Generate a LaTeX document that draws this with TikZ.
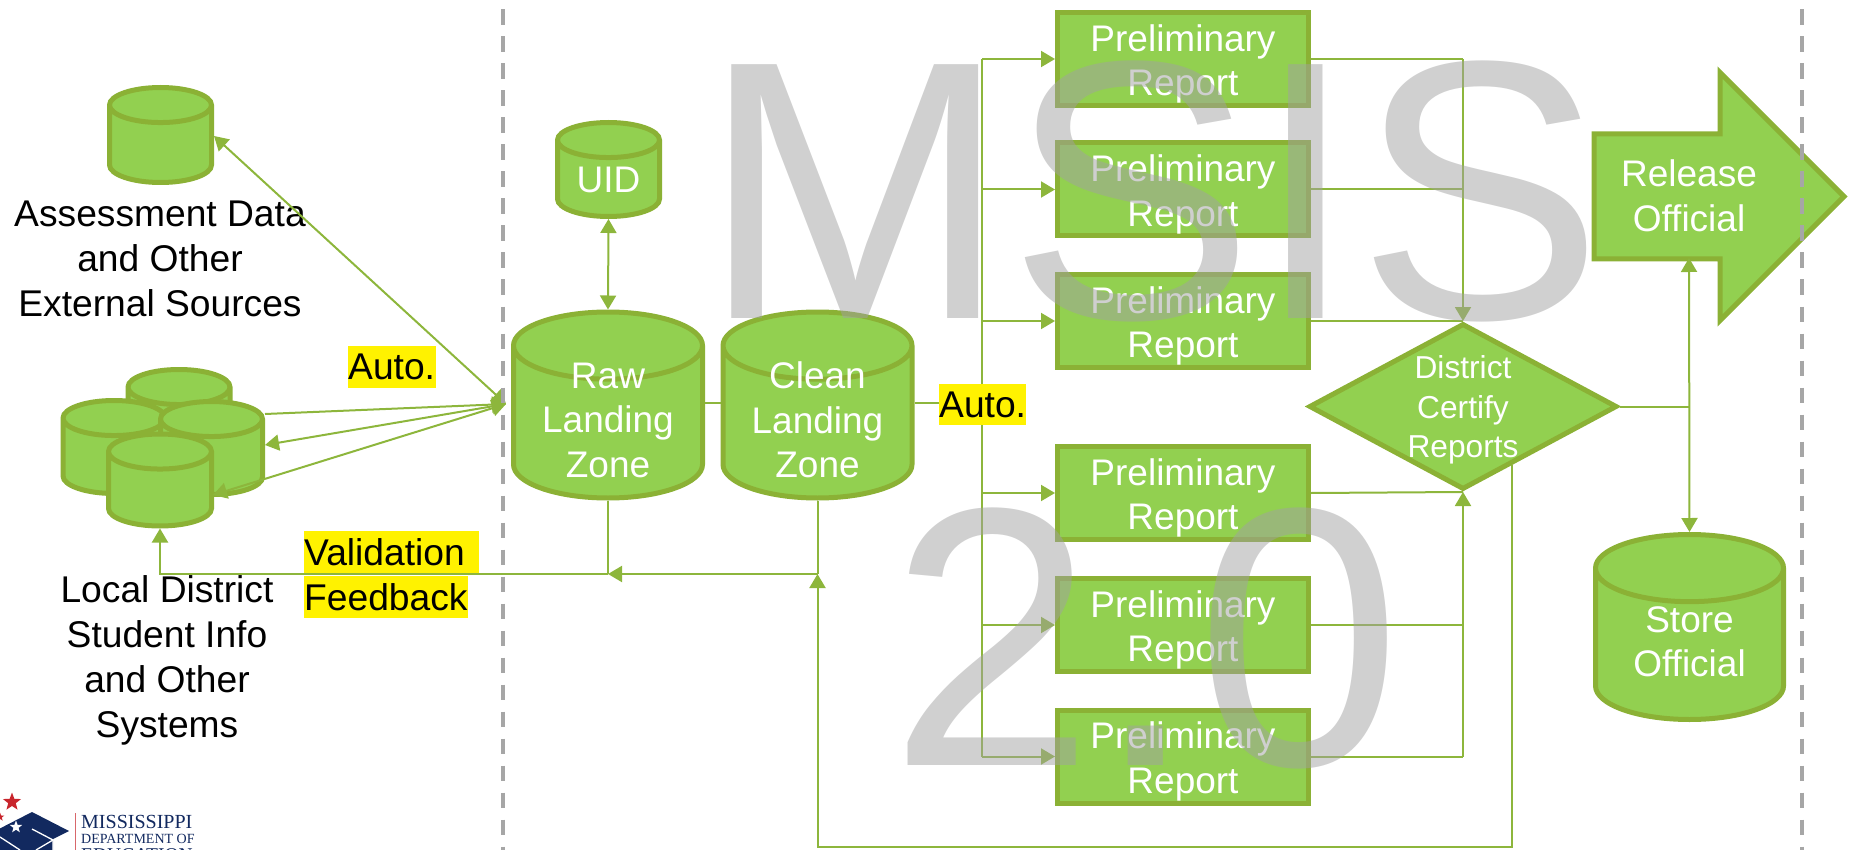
\documentclass[tikz,border=0pt]{standalone}
\usepackage{fontspec}
\setmainfont{Liberation Sans}
\newfontfamily\logofont{Liberation Serif}
\usetikzlibrary{shapes.geometric,shapes.arrows,arrows.meta,calc}
\definecolor{boxgreen}{HTML}{92D050}
\definecolor{edgegreen}{HTML}{8BB135}
\definecolor{linegreen}{HTML}{8DB63C}
\definecolor{dashgray}{HTML}{A6A6A6}
\definecolor{markgray}{HTML}{A1A1A1}
\definecolor{logonavy}{HTML}{12295F}
\definecolor{logored}{HTML}{C8252C}
\newcommand{\prelimtxt}{\rule{0pt}{37pt}Preliminary\\Report}
\tikzset{
    shapebase/.style={draw=edgegreen, fill=boxgreen, line width=5pt, text=white, inner sep=0pt, align=center, font=\fontsize{37}{44.5}\selectfont},
    dbase/.style={shapebase, cylinder, shape border rotate=90, anchor=shape center},
    dbsmall/.style={dbase, aspect=.55, minimum width=102pt},
    dbbig/.style={dbase, aspect=.51},
    report/.style={shapebase, rectangle, minimum width=251pt, minimum height=93pt},
    onshape/.style={text=white, inner sep=0pt, align=center, font=\fontsize{37}{44.5}\selectfont},
    flow/.style={draw=linegreen, line width=2pt},
    flowin/.style={flow, -{Triangle[length=14pt,width=16pt]}},
    flowboth/.style={flow, {Triangle[length=14pt,width=16pt]}-{Triangle[length=14pt,width=16pt]}},
    plainlabel/.style={align=center, font=\fontsize{37.2}{45}\selectfont},
    hilite/.style={fill=yellow, inner sep=0pt, anchor=north west, align=left, font=\fontsize{37.2}{44}\selectfont},
    zone/.style={draw=dashgray, line width=4pt, dash pattern=on 15.5pt off 11.5pt},
    watermark/.style={text=markgray, text opacity=.5, inner sep=0pt, anchor=base west, font=\fontsize{369}{369}\selectfont}
}
\begin{document}
\begin{tikzpicture}[x=1pt,y=-1pt]
    \useasboundingbox (0,0) rectangle (1852,850);
    \clip (0,0) rectangle (1852,850);

    \node[dbsmall, minimum height=95pt] (assess) at (160.5,135) {\phantom{UID}};
    \node[dbsmall, minimum height=95pt] (local1) at (179,417) {\phantom{UID}};
    \node[dbsmall, minimum height=93pt] (local2) at (114,447) {\phantom{UID}};
    \node[dbsmall, minimum height=93pt] (local3) at (211.5,448) {\phantom{UID}};
    \node[dbsmall, minimum width=103pt, minimum height=92pt] (local4) at (160,480) {\phantom{UID}};
    \node[dbsmall, minimum height=94pt] (uid) at (608.5,169.5) {UID};
    \node[dbbig, minimum width=189pt, minimum height=186pt] (raw) at (608,405) {\phantom{Landing}};
    \node[dbbig, minimum width=189pt, minimum height=186pt] (clean) at (817.5,405) {\phantom{Landing}};
    \node[dbbig, minimum width=188pt, minimum height=185pt] (store) at (1689.5,627) {\phantom{Landing}};
    \node[onshape] (rawtxt) at (608,420) {Raw\\Landing\\Zone};
    \node[onshape] (cleantxt) at (817.5,420) {Clean\\Landing\\Zone};
    \node[onshape] (storetxt) at (1689.5,642) {Store\\Official};

    \node[report] (rep1) at (1183,59) {\prelimtxt};
    \node[report] (rep2) at (1183,189.5) {\prelimtxt};
    \node[report] (rep3) at (1183,321) {\prelimtxt};
    \node[report] (rep4) at (1183,493) {\prelimtxt};
    \node[report] (rep5) at (1183,625) {\prelimtxt};
    \node[report] (rep6) at (1183,756.5) {\prelimtxt};

    \node[shapebase, diamond, aspect=2, inner sep=-8pt, minimum width=308pt, minimum height=166pt, font=\fontsize{31.7}{39.5}\selectfont] (cert) at (1463,406.5) {\rule{0pt}{30pt}District\\Certify\\Reports};
    \node[shapebase, single arrow, anchor=tail, single arrow tip angle=90, single arrow head extend=61.5pt, minimum height=250pt, minimum width=243pt, text height=60pt, text depth=60pt] (release) at (1591.5,196.5) {};
    \node[onshape] (releasetxt) at (1689,196) {Release\\Official};

    \node[plainlabel] (assesstxt) at (160,259) {Assessment Data\\and Other\\External Sources};
    \node[plainlabel] (localtxt) at (167,660) {Local District\\Student Info\\and Other\\Systems};

    \coordinate (rawin) at (506,404);
    \coordinate (fanA) at (265,414);
    \coordinate (fanB) at (265,445);
    \coordinate (fanC) at (213,495);
    \coordinate (assessin) at (214,136);
    \coordinate (busin) at (982,403);
    \coordinate (busout) at (1463,403);
    \coordinate (cleanjoin) at (817.5,574);
    \coordinate (rawjoin) at (608,574);
    \coordinate (loopturn) at (817.5,847);
    \coordinate (certout) at ($(cert.south)!.31!(cert.east)$);
    \coordinate (relbot) at (1689,258);
    \coordinate (certjoin) at (1689,406.5);

    \draw[flowboth] (assessin) -- (rawin);
    \draw[flowin] (fanA) -- (rawin);
    \draw[flowboth] (fanB) -- (rawin);
    \draw[flowboth] (fanC) -- (rawin);
    \draw[flowboth] (uid.south) -- (raw.north);
    \draw[flow] (raw.east |- busin) -- (clean.west |- busin);
    \draw[flow] (clean.east |- busin) -- (busin);
    \draw[flow] (busin |- rep1.west) -- (busin |- rep6.west);
    \draw[flowin] (busin |- rep1.west) -- (rep1.west);
    \draw[flowin] (busin |- rep2.west) -- (rep2.west);
    \draw[flowin] (busin |- rep3.west) -- (rep3.west);
    \draw[flowin] (busin |- rep4.west) -- (rep4.west);
    \draw[flowin] (busin |- rep5.west) -- (rep5.west);
    \draw[flowin] (busin |- rep6.west) -- (rep6.west);
    \draw[flow] (rep1.east) -- (busout |- rep1.east);
    \draw[flow] (rep2.east) -- (busout |- rep2.east);
    \draw[flow] (rep3.east) -- (busout |- rep3.east);
    \draw[flowin] (busout |- rep1.east) -- (cert.north);
    \draw[flow] (rep4.east) -- (cert.south);
    \draw[flow] (rep5.east) -- (busout |- rep5.east);
    \draw[flow] (rep6.east) -- (busout |- rep6.east);
    \draw[flowin] (busout |- rep6.east) -- (cert.south);
    \draw[flow] (cert.east) -- (certjoin);
    \draw[flowboth] (relbot) -- (store.north);
    \draw[flow] (clean.south) -- (cleanjoin);
    \draw[flowin] (cleanjoin) -- (rawjoin);
    \draw[flow] (raw.south) -- (rawjoin);
    \draw[flowin] (rawjoin) -| (local4.south);
    \draw[flowin] (certout) |- (loopturn) -- (cleanjoin);

    \node[hilite, text width=88pt, minimum height=42pt] (auto1) at (348,346) {Auto.};
    \node[hilite, text width=87pt, minimum height=41pt] (auto2) at (939,384) {Auto.};
    \node[hilite, text width=175pt, minimum height=42pt] (valid) at (304,531) {Validation};
    \node[hilite, text width=164pt, minimum height=42pt] (feedb) at (304,576) {Feedback};

    \coordinate (zoneAtop) at (503,-17.5);
    \coordinate (zoneAbot) at (503,860);
    \coordinate (zoneBtop) at (1802,-17.5);
    \coordinate (zoneBbot) at (1802,860);
    \draw[zone] (zoneAtop) -- (zoneAbot);
    \draw[zone] (zoneBtop) -- (zoneBbot);

    \node[star, star points=5, star point ratio=2.4, fill=logored, inner sep=0pt, minimum size=19pt] (starA) at (12,802) {};
    \node[star, star points=5, star point ratio=2.4, fill=logored, inner sep=0pt, minimum size=9pt] (starB) at (0,817) {};
    \fill[logonavy] (32,812) -- (69,831) -- (53,839) -- (53,850) -- (-5,850) -- (-5,831) -- cycle;
    \draw[white, line width=1.3pt] (32,829) -- (53,840) -- (53,850);
    \draw[white, line width=1.3pt] (36,850) -- (53,840);
    \draw[white, line width=1.3pt] (0,837) -- (20,850);
    \node[star, star points=5, star point ratio=2.4, fill=white, inner sep=0pt, minimum size=13pt] (starC) at (16,827) {};
    \draw[logored!70, line width=1pt] (75,813) -- (75,850);
    \node[text=logonavy, inner sep=0pt, anchor=base west, font=\logofont\fontsize{20}{20}\selectfont] (logoA) at (81,828.5) {MISSISSIPPI};
    \node[text=logonavy, inner sep=0pt, anchor=base west, font=\logofont\fontsize{14}{14}\selectfont] (logoB) at (81,843) {DEPARTMENT OF};
    \node[text=logonavy, inner sep=0pt, anchor=base west, font=\logofont\fontsize{19.5}{19.5}\selectfont] (logoC) at (81,861) {EDUCATION};

    \node[watermark] (msis) at (701,318) {MSIS};
    \node[watermark] (version) at (889,765) {2.0};
\end{tikzpicture}
\end{document}
